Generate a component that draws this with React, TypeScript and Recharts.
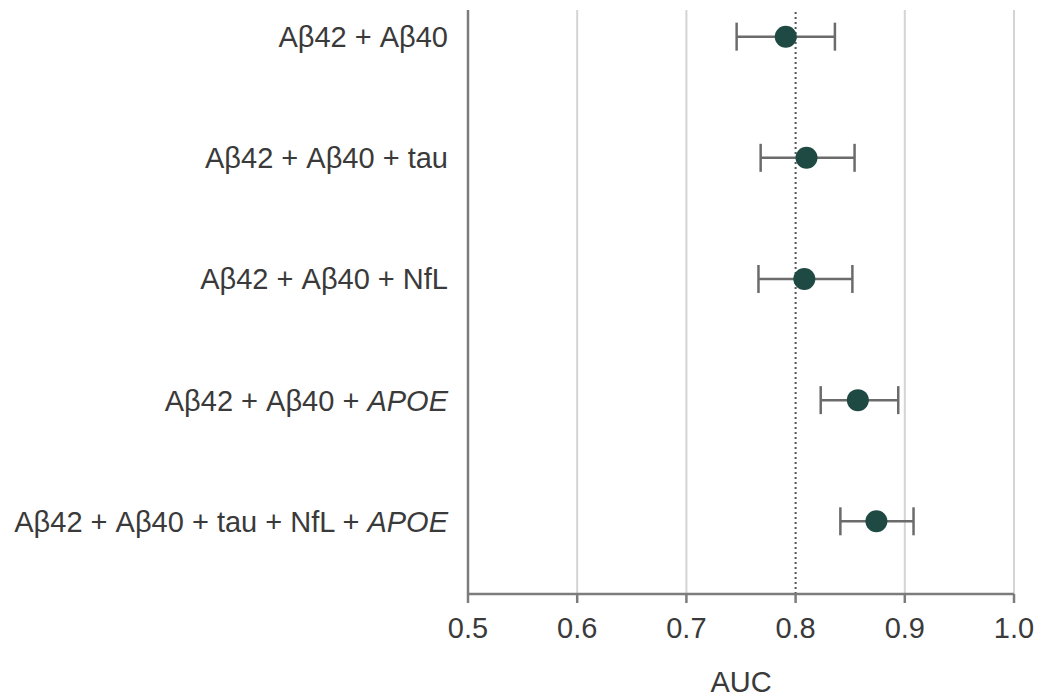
import { ErrorBar, ReferenceLine, Scatter, ScatterChart, XAxis, YAxis } from "recharts";

// Models, top to bottom
const models = [
  "Aβ42 + Aβ40",
  "Aβ42 + Aβ40 + tau",
  "Aβ42 + Aβ40 + NfL",
  "Aβ42 + Aβ40 + APOE",
  "Aβ42 + Aβ40 + tau + NfL + APOE",
];
const auc = [0.791, 0.81, 0.808, 0.857, 0.874];
const ciLow = [0.746, 0.768, 0.766, 0.823, 0.841];
const ciHigh = [0.836, 0.854, 0.852, 0.894, 0.908];

const xTicks = [0.5, 0.6, 0.7, 0.8, 0.9, 1.0];
const gridLines = [0.6, 0.7, 0.9, 1.0];
const refLine = 0.8;

const data = models.map((name, i) => ({
  row: i,
  name,
  auc: auc[i],
  err: [auc[i] - ciLow[i], ciHigh[i] - auc[i]],
}));

const FONT = "'Liberation Sans', Arial, sans-serif";
const FS = 29;
const TEXT = "#3a3a3a";
const AXIS = "#7c7c7c";

const ModelTick = (props: any) => {
  const { x, y, payload } = props;
  const label = models[payload.value] ?? "";
  // APOE is a gene name, set in italics
  const parts = label.split(/(APOE)/).filter((p) => p !== "");
  return (
    <text x={x} y={y} dy="0.36em" textAnchor="end" fontSize={FS} fontFamily={FONT} fill={TEXT}>
      {parts.map((p, k) => (
        <tspan key={k} fontStyle={p === "APOE" ? "italic" : "normal"}>
          {p}
        </tspan>
      ))}
    </text>
  );
};

const Dot = (props: any) => <circle cx={props.cx} cy={props.cy} r={11} fill="#1f4a44" />;

export default function App() {
  return (
    <div style={{ position: "absolute", left: 0, top: 0, background: "#fff" }}>
      <ScatterChart width={1044} height={698} margin={{ top: 10, right: 30, bottom: 0, left: 0 }}>
        {gridLines.map((v) => (
          <ReferenceLine key={v} x={v} stroke="#d4d4d4" strokeWidth={2} />
        ))}
        <ReferenceLine x={refLine} stroke="#555" strokeWidth={2} strokeDasharray="2 3" />
        <XAxis
          type="number"
          dataKey="auc"
          domain={[0.5, 1.0]}
          ticks={xTicks}
          tickFormatter={(v: number) => v.toFixed(1)}
          height={104}
          stroke={AXIS}
          strokeWidth={2.5}
          tickSize={9}
          tickMargin={14}
          tick={{ fontSize: FS, fontFamily: FONT, fill: TEXT }}
          label={{ value: "AUC", position: "insideBottom", offset: 6, fontSize: FS, fontFamily: FONT, fill: TEXT }}
        />
        <YAxis
          type="number"
          dataKey="row"
          domain={[-0.22, 4.6]}
          ticks={[0, 1, 2, 3, 4]}
          reversed
          width={468}
          stroke={AXIS}
          strokeWidth={2.5}
          tickLine={false}
          tickSize={0}
          tickMargin={20}
          tick={<ModelTick />}
        />
        <Scatter data={data} shape={<Dot />} isAnimationActive={false}>
          <ErrorBar dataKey="err" direction="x" width={14} stroke="#6b6b6b" strokeWidth={2.5} />
        </Scatter>
      </ScatterChart>
    </div>
  );
}
